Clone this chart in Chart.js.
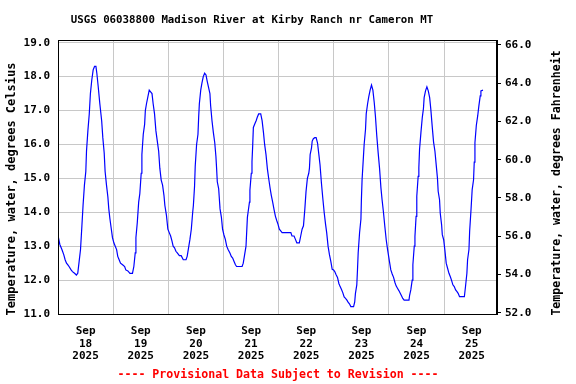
<!DOCTYPE html>
<html><head><meta charset="utf-8">
<script src="https://cdn.jsdelivr.net/npm/chart.js@4/dist/chart.umd.min.js"></script>
<style>html,body{margin:0;padding:0;background:#fff}#wrap{width:576px;height:384px;position:relative}</style>
</head><body><div id="wrap"><canvas id="c" width="576" height="384"></canvas></div>
<script>
const chartTitle = 'USGS 06038800 Madison River at Kirby Ranch nr Cameron MT';
const leftAxisTitle = 'Temperature, water, degrees Celsius';
const rightAxisTitle = 'Temperature, water, degrees Fahrenheit';
const footerText = '---- Provisional Data Subject to Revision ----';
const dayLabels = [['Sep','18','2025'],['Sep','19','2025'],['Sep','20','2025'],['Sep','21','2025'],['Sep','22','2025'],['Sep','23','2025'],['Sep','24','2025'],['Sep','25','2025']];
const dayLabelHours = [12,36,60,84,108,132,156,180];
const dayGridHours = [0,24,48,72,96,120,144,168];
const celsiusTicks = [11,12,13,14,15,16,17,18,19];
const fahrenheitTicks = [52,54,56,58,60,62,64,66];
// hours since Sep 18 2025 00:00
const hours = [0.2,0.8,1.7,2.5,3.1,3.7,4.3,4.8,5.7,6.3,7.2,8.0,8.6,9.2,9.8,10.4,10.9,11.5,12.1,12.4,13.0,13.6,14.1,14.7,15.3,15.9,16.5,16.9,17.5,18.2,19.0,19.5,20.1,20.5,21.1,21.7,22.1,22.6,23.1,23.7,24.3,24.9,25.5,26.0,26.6,27.2,28.1,29.0,29.5,30.4,31.3,32.4,33.0,33.6,33.9,34.5,35.1,35.6,36.2,36.5,37.1,37.7,38.0,38.5,39.1,39.7,40.3,40.9,41.4,42.0,42.6,43.2,43.8,44.3,44.9,45.5,46.1,46.5,
47.2,47.8,48.4,49.0,49.6,50.1,50.7,51.3,51.9,52.8,53.6,54.5,55.7,56.2,56.8,57.4,58.0,58.6,58.9,59.4,59.7,60.3,60.9,61.2,61.5,62.1,62.6,63.2,63.8,64.4,64.9,65.5,66.1,66.4,67.0,67.6,68.2,68.7,69.0,69.3,69.9,70.2,70.5,71.1,71.6,72.2,72.8,73.4,74.0,74.8,75.4,76.0,76.6,77.2,77.7,78.9,80.1,80.6,81.2,81.8,82.4,82.7,83.3,83.5,84.1,84.4,84.7,85.0,85.6,86.2,86.7,87.3,88.2,88.8,89.4,89.9,90.5,91.1,91.7,92.3,92.8,93.4,94.0,94.6,95.2,95.7,96.3,96.9,
97.5,98.4,99.2,100.1,101.3,101.8,102.7,103.3,103.9,105.0,105.6,106.2,106.8,107.4,107.9,108.5,109.1,109.4,109.7,110.3,110.6,111.1,111.7,112.3,112.9,113.5,114.0,114.6,115.2,115.8,116.4,116.9,117.5,118.1,118.7,119.3,119.9,120.4,121.0,121.6,122.2,122.8,123.3,123.9,124.5,125.1,125.7,126.2,126.8,127.4,128.6,129.1,129.4,130.0,130.3,130.6,131.2,131.8,132.0,132.3,132.9,133.2,133.8,134.1,134.7,135.2,135.8,136.4,137.0,137.6,138.1,138.7,139.3,139.9,140.5,141.0,141.6,142.2,142.8,
143.4,144.2,144.8,145.4,146.0,146.6,147.1,147.7,148.3,148.9,149.5,150.0,150.6,152.7,153.0,153.5,154.1,154.4,155.0,155.3,155.8,156.1,156.7,157.0,157.3,157.9,158.5,159.0,159.3,159.9,160.5,161.1,161.7,162.2,162.8,163.4,164.0,164.6,165.1,165.4,166.0,166.3,166.9,167.2,167.8,168.3,168.9,169.5,170.1,170.7,171.2,171.8,172.4,173.0,173.6,174.1,174.7,176.8,177.3,177.9,178.2,178.8,179.1,179.7,180.2,180.8,181.1,181.4,182.0,182.6,183.1,183.7,184.0,184.9];
const tempC = [13.25,13.05,12.9,12.75,12.6,12.5,12.45,12.4,12.3,12.25,12.2,12.15,12.2,12.55,12.9,13.6,14.2,14.8,15.2,15.8,16.4,16.9,17.5,17.9,18.2,18.3,18.3,18.1,17.7,17.2,16.7,16.2,15.75,15.2,14.8,14.45,14.1,13.8,13.55,13.25,13.1,13.0,12.9,12.7,12.6,12.5,12.45,12.4,12.3,12.27,12.2,12.2,12.4,12.8,13.25,13.7,14.3,14.55,15.15,15.7,16.3,16.6,17.0,17.2,17.4,17.6,17.55,17.5,17.2,16.9,16.4,16.1,15.8,15.3,14.95,14.8,14.5,14.2,
13.9,13.5,13.4,13.3,13.15,13.0,12.95,12.85,12.8,12.72,12.72,12.6,12.6,12.7,12.95,13.2,13.5,14.0,14.2,14.75,15.35,16.0,16.3,16.8,17.2,17.6,17.8,18.0,18.1,18.05,17.87,17.68,17.5,17.15,16.7,16.35,16.05,15.65,15.3,14.9,14.7,14.4,14.1,13.85,13.5,13.33,13.2,13.0,12.9,12.8,12.7,12.65,12.55,12.45,12.4,12.4,12.4,12.5,12.75,13.0,13.85,14.0,14.3,14.65,15.15,15.5,15.95,16.5,16.6,16.7,16.8,16.9,16.9,16.7,16.35,16.0,15.7,15.28,14.98,14.7,14.5,14.3,14.08,13.88,13.75,13.65,13.5,13.45,
13.4,13.4,13.4,13.4,13.4,13.3,13.3,13.2,13.1,13.1,13.3,13.5,13.6,14.1,14.6,15.0,15.15,15.3,15.7,15.9,16.1,16.17,16.2,16.2,16.05,15.7,15.4,14.87,14.42,14.0,13.65,13.4,13.0,12.75,12.55,12.32,12.3,12.25,12.16,12.08,11.9,11.8,11.73,11.63,11.5,11.46,11.41,11.35,11.3,11.22,11.22,11.36,11.6,11.86,12.3,12.8,13.39,13.8,14.37,14.96,15.65,16.0,16.45,16.9,17.2,17.4,17.6,17.75,17.6,17.23,16.84,16.25,15.75,15.3,14.72,14.37,14.0,13.58,13.19,
12.9,12.55,12.3,12.18,12.08,11.93,11.83,11.76,11.69,11.61,11.53,11.46,11.41,11.41,11.56,11.71,12.0,12.45,13.0,13.29,13.88,14.47,15.06,15.31,15.85,16.35,16.8,17.06,17.38,17.58,17.7,17.58,17.38,17.04,16.54,16.07,15.8,15.36,15.0,14.62,14.37,13.98,13.63,13.34,13.19,12.9,12.5,12.35,12.2,12.1,12.0,11.86,11.81,11.71,11.66,11.61,11.51,11.51,11.81,12.2,12.6,12.9,13.44,14.08,14.67,14.96,15.48,16.05,16.56,16.84,17.13,17.43,17.58,17.6];

const FONT = '"DejaVu Sans Mono", monospace';
const points = hours.map((h, i) => ({x: h, y: tempC[i]}));

const textPlugin = {
  id: 'texts',
  afterDraw(chart) {
    const ctx = chart.ctx;
    const a = chart.chartArea;
    ctx.save();
    ctx.strokeStyle = '#000';
    ctx.lineWidth = 1;
    ctx.strokeRect(Math.round(a.left) + 0.5, Math.round(a.top) + 0.5, Math.round(a.right - a.left) - 1, Math.round(a.bottom - a.top));
    ctx.fillStyle = '#000';
    ctx.textAlign = 'center';
    ctx.textBaseline = 'middle';
    ctx.font = 'bold 10.75px ' + FONT;
    ctx.fillText(chartTitle, 252, 20);
    ctx.save();
    ctx.translate(12, 189);
    ctx.rotate(-Math.PI / 2);
    ctx.font = 'bold 12px ' + FONT;
    ctx.fillText(leftAxisTitle, 0, 0);
    ctx.restore();
    ctx.save();
    ctx.translate(557, 183);
    ctx.rotate(-Math.PI / 2);
    ctx.font = 'bold 11.6px ' + FONT;
    ctx.fillText(rightAxisTitle, 0, 0);
    ctx.restore();
    ctx.fillStyle = '#ff0000';
    ctx.font = 'bold 11.6px ' + FONT;
    ctx.fillText(footerText, 278, 375);
    ctx.restore();
  }
};

new Chart(document.getElementById('c'), {
  type: 'line',
  data: {
    datasets: [{
      data: points,
      borderColor: '#0000ff',
      borderWidth: 1.2,
      pointRadius: 0,
      tension: 0,
      fill: false,
      yAxisID: 'y'
    }]
  },
  options: {
    responsive: false,
    animation: false,
    devicePixelRatio: 1,
    layout: {padding: {top: 40, left: 0, right: 0, bottom: 0}},
    plugins: {legend: {display: false}, tooltip: {enabled: false}, title: {display: false}},
    scales: {
      x: {
        type: 'linear', position: 'bottom', min: 0, max: 191,
        afterBuildTicks: s => { s.ticks = dayGridHours.map(v => ({value: v})); },
        afterFit: s => { s.height = 0; },
        ticks: {display: false},
        grid: {color: '#c8c8c8', lineWidth: 1, drawTicks: false},
        border: {color: '#000', width: 1}
      },
      xl: {
        type: 'linear', position: 'bottom', min: 0, max: 191,
        afterBuildTicks: s => { s.ticks = dayLabelHours.map(v => ({value: v})); },
        afterFit: s => { s.height = 70; },
        ticks: {
          autoSkip: false, maxRotation: 0, padding: 11, color: '#000',
          font: {family: FONT, size: 11, weight: 'bold', lineHeight: 1.15},
          callback: (v, i) => dayLabels[i]
        },
        grid: {display: false, drawTicks: false},
        border: {display: false}
      },
      y: {
        type: 'linear', position: 'left', min: 11, max: 19.08,
        afterBuildTicks: s => { s.ticks = celsiusTicks.map(v => ({value: v})); },
        afterFit: s => { s.width = 58; },
        ticks: {padding: 8, color: '#000', font: {family: FONT, size: 11, weight: 'bold'}, callback: v => Number(v).toFixed(1)},
        grid: {color: '#c8c8c8', lineWidth: 1, drawTicks: false},
        border: {color: '#000', width: 1}
      },
      yF: {
        type: 'linear', position: 'right', min: 51.93, max: 66.26,
        afterBuildTicks: s => { s.ticks = fahrenheitTicks.map(v => ({value: v})); },
        afterFit: s => { s.width = 79; },
        ticks: {padding: 4, color: '#000', font: {family: FONT, size: 11, weight: 'bold'}, callback: v => Number(v).toFixed(1)},
        grid: {drawOnChartArea: false, drawTicks: true, tickLength: 4, color: '#000'},
        border: {color: '#000', width: 1}
      }
    }
  },
  plugins: [textPlugin]
});
</script>
</body></html>
